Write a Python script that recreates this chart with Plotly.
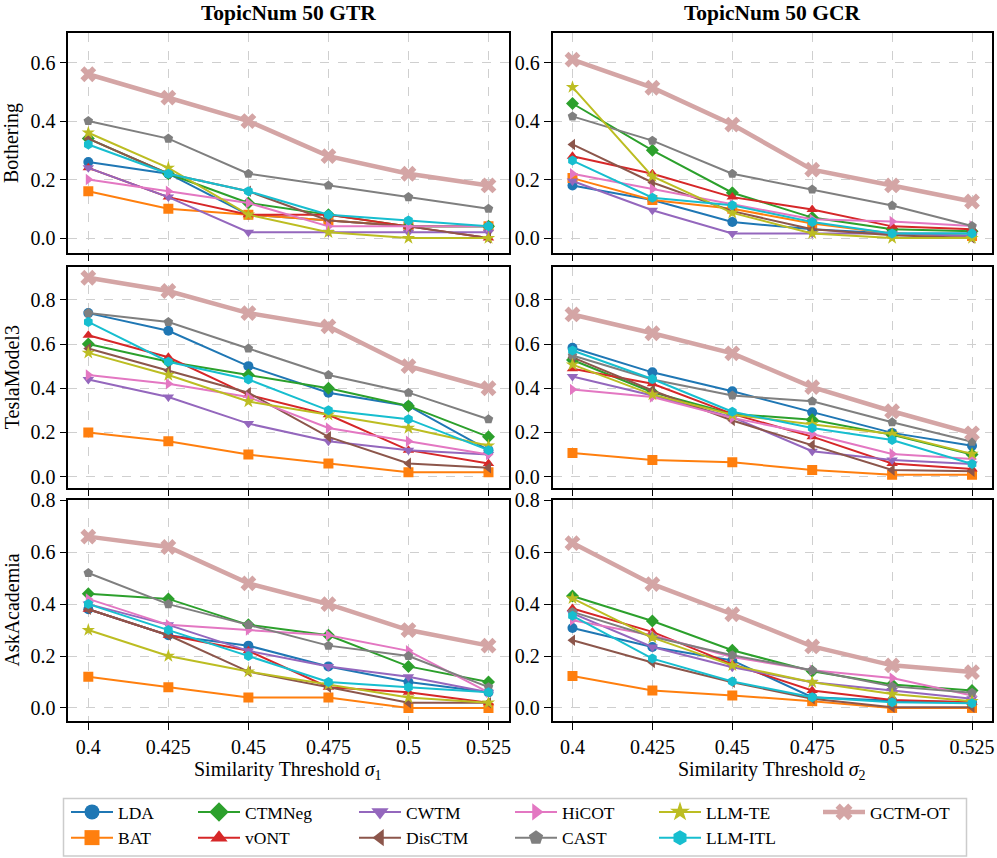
import plotly.graph_objects as go

thresholds = [0.4, 0.425, 0.45, 0.475, 0.5, 0.525]
tick_labels = ["0.4", "0.425", "0.45", "0.475", "0.5", "0.525"]
methods = ["LDA", "BAT", "CTMNeg", "vONT", "CWTM", "DisCTM", "HiCOT", "CAST", "LLM-TE", "LLM-ITL", "GCTM-OT"]
datasets = ["Bothering", "TeslaModel3", "AskAcademia"]
metrics = ["TopicNum 50 GTR", "TopicNum 50 GCR"]

gtr_bothering = {
    "LDA": [0.26, 0.22, 0.08, 0.06, 0.04, 0.04],
    "BAT": [0.16, 0.10, 0.08, 0.06, 0.04, 0.04],
    "CTMNeg": [0.34, 0.22, 0.12, 0.08, 0.04, 0.04],
    "vONT": [0.24, 0.14, 0.08, 0.08, 0.04, 0.00],
    "CWTM": [0.24, 0.14, 0.02, 0.02, 0.02, 0.02],
    "DisCTM": [0.34, 0.22, 0.16, 0.06, 0.04, 0.00],
    "HiCOT": [0.20, 0.16, 0.12, 0.04, 0.04, 0.04],
    "CAST": [0.40, 0.34, 0.22, 0.18, 0.14, 0.10],
    "LLM-TE": [0.36, 0.24, 0.08, 0.02, 0.00, 0.00],
    "LLM-ITL": [0.32, 0.22, 0.16, 0.08, 0.06, 0.04],
    "GCTM-OT": [0.56, 0.48, 0.40, 0.28, 0.22, 0.18],
}
gcr_bothering = {
    "LDA": [0.18, 0.13, 0.055, 0.03, 0.016, 0.016],
    "BAT": [0.205, 0.13, 0.10, 0.05, 0.016, 0.007],
    "CTMNeg": [0.46, 0.30, 0.155, 0.07, 0.03, 0.023],
    "vONT": [0.28, 0.22, 0.14, 0.098, 0.04, 0.03],
    "CWTM": [0.195, 0.095, 0.016, 0.016, 0.016, 0.007],
    "DisCTM": [0.32, 0.19, 0.092, 0.03, 0.01, 0.0],
    "HiCOT": [0.22, 0.168, 0.115, 0.064, 0.057, 0.041],
    "CAST": [0.416, 0.333, 0.22, 0.166, 0.111, 0.041],
    "LLM-TE": [0.516, 0.211, 0.086, 0.016, 0.0, 0.0],
    "LLM-ITL": [0.265, 0.138, 0.112, 0.055, 0.016, 0.016],
    "GCTM-OT": [0.61, 0.514, 0.388, 0.234, 0.18, 0.125],
}
gtr_tesla = {
    "LDA": [0.74, 0.66, 0.50, 0.38, 0.32, 0.12],
    "BAT": [0.20, 0.16, 0.10, 0.06, 0.02, 0.02],
    "CTMNeg": [0.60, 0.52, 0.46, 0.40, 0.32, 0.18],
    "vONT": [0.64, 0.54, 0.37, 0.28, 0.12, 0.06],
    "CWTM": [0.44, 0.36, 0.24, 0.16, 0.12, 0.10],
    "DisCTM": [0.58, 0.48, 0.38, 0.18, 0.06, 0.04],
    "HiCOT": [0.46, 0.42, 0.36, 0.22, 0.16, 0.10],
    "CAST": [0.74, 0.70, 0.58, 0.46, 0.38, 0.26],
    "LLM-TE": [0.56, 0.46, 0.34, 0.28, 0.22, 0.14],
    "LLM-ITL": [0.70, 0.52, 0.44, 0.30, 0.26, 0.12],
    "GCTM-OT": [0.90, 0.84, 0.74, 0.68, 0.50, 0.40],
}
gcr_tesla = {
    "LDA": [0.583, 0.472, 0.386, 0.291, 0.198, 0.14],
    "BAT": [0.107, 0.075, 0.065, 0.03, 0.009, 0.009],
    "CTMNeg": [0.528, 0.382, 0.284, 0.257, 0.189, 0.10],
    "vONT": [0.488, 0.42, 0.284, 0.181, 0.06, 0.035],
    "CWTM": [0.453, 0.367, 0.269, 0.115, 0.075, 0.057],
    "DisCTM": [0.54, 0.39, 0.254, 0.143, 0.03, 0.024],
    "HiCOT": [0.394, 0.36, 0.266, 0.193, 0.103, 0.08],
    "CAST": [0.548, 0.44, 0.367, 0.341, 0.246, 0.158],
    "LLM-TE": [0.507, 0.371, 0.28, 0.238, 0.193, 0.103],
    "LLM-ITL": [0.571, 0.442, 0.294, 0.22, 0.166, 0.057],
    "GCTM-OT": [0.734, 0.649, 0.558, 0.405, 0.296, 0.196],
}
gtr_askacademia = {
    "LDA": [0.38, 0.28, 0.24, 0.16, 0.10, 0.06],
    "BAT": [0.12, 0.08, 0.04, 0.04, 0.00, 0.00],
    "CTMNeg": [0.44, 0.42, 0.32, 0.28, 0.16, 0.10],
    "vONT": [0.38, 0.28, 0.22, 0.08, 0.06, 0.02],
    "CWTM": [0.40, 0.32, 0.22, 0.16, 0.12, 0.06],
    "DisCTM": [0.38, 0.28, 0.14, 0.08, 0.02, 0.02],
    "HiCOT": [0.42, 0.32, 0.30, 0.28, 0.22, 0.06],
    "CAST": [0.52, 0.40, 0.32, 0.24, 0.20, 0.08],
    "LLM-TE": [0.30, 0.20, 0.14, 0.09, 0.04, 0.02],
    "LLM-ITL": [0.40, 0.30, 0.20, 0.10, 0.08, 0.06],
    "GCTM-OT": [0.66, 0.62, 0.48, 0.40, 0.30, 0.24],
}
gcr_askacademia = {
    "LDA": [0.308, 0.235, 0.183, 0.041, 0.028, 0.022],
    "BAT": [0.123, 0.067, 0.048, 0.026, 0.0, 0.0],
    "CTMNeg": [0.431, 0.335, 0.222, 0.141, 0.09, 0.067],
    "vONT": [0.383, 0.293, 0.168, 0.067, 0.031, 0.022],
    "CWTM": [0.364, 0.235, 0.157, 0.099, 0.067, 0.035],
    "DisCTM": [0.261, 0.175, 0.099, 0.035, 0.003, 0.003],
    "HiCOT": [0.338, 0.28, 0.196, 0.145, 0.115, 0.048],
    "CAST": [0.37, 0.274, 0.203, 0.145, 0.083, 0.058],
    "LLM-TE": [0.422, 0.271, 0.164, 0.099, 0.054, 0.026],
    "LLM-ITL": [0.355, 0.19, 0.102, 0.041, 0.022, 0.018],
    "GCTM-OT": [0.635, 0.477, 0.361, 0.237, 0.164, 0.138],
}

panels = [gtr_bothering, gcr_bothering, gtr_tesla, gcr_tesla, gtr_askacademia, gcr_askacademia]
y_ranges = [[-0.05, 0.7], [-0.05, 0.95], [-0.05, 0.8]]
y_ticks = [[0, 0.2, 0.4, 0.6], [0, 0.2, 0.4, 0.6, 0.8], [0, 0.2, 0.4, 0.6, 0.8]]

colors = ["#1f77b4", "#ff7f0e", "#2ca02c", "#d62728", "#9467bd", "#8c564b",
          "#e377c2", "#7f7f7f", "#bcbd22", "#17becf", "#d4a5a5"]
symbols = ["circle", "square", "diamond", "triangle-up", "triangle-down", "triangle-left",
           "triangle-right", "pentagon", "star", "hexagon", "x"]
legend_ids = ["legend", "legend", "legend2", "legend2", "legend3", "legend3",
              "legend4", "legend4", "legend5", "legend5", "legend6"]

FONT = "Liberation Serif"
W, H = 997, 858
ML, MR, MT, MB = 68, 5, 33, 137
PW, PH = W - ML - MR, H - MT - MB

def px_x(X):
    return (X - ML) / PW

def px_y(Y):
    return (H - MB - Y) / PH

x_domains = [[px_x(68.3), px_x(508.5)], [px_x(552.5), 1.0]]
y_domains = [[px_y(252.7), px_y(33.3)], [px_y(487.7), px_y(266.7)], [px_y(720.9), px_y(500.3)]]

fig = go.Figure()
layout = {}
for i, panel in enumerate(panels):
    r, c = divmod(i, 2)
    xn = "x" if i == 0 else f"x{i+1}"
    yn = "y" if i == 0 else f"y{i+1}"
    xk = "xaxis" if i == 0 else f"xaxis{i+1}"
    yk = "yaxis" if i == 0 else f"yaxis{i+1}"
    for m, name in enumerate(methods):
        is_ot = name == "GCTM-OT"
        fig.add_trace(go.Scatter(
            x=thresholds, y=panel[name], mode="lines+markers", name=name,
            xaxis=xn, yaxis=yn,
            line=dict(color=colors[m], width=4.5 if is_ot else 2),
            marker=dict(symbol=symbols[m], size=14 if is_ot else 10, color=colors[m],
                        line=dict(width=0)),
            showlegend=False,
        ))
    common = dict(showline=True, mirror=True, linecolor="black", linewidth=1.5,
                  ticks="outside", ticklen=7, tickwidth=1.3, tickcolor="black",
                  showgrid=True, gridcolor="#cfcfcf", griddash="dash", gridwidth=1,
                  zeroline=False, ticklabeloverflow="allow",
                  tickfont=dict(family=FONT, size=20, color="black"))
    layout[xk] = dict(common, domain=x_domains[c], anchor=yn,
                      range=[0.39375, 0.53125], tickmode="array",
                      tickvals=thresholds, ticktext=tick_labels,
                      showticklabels=(r == 2))
    layout[yk] = dict(common, domain=y_domains[r], anchor=xn,
                      range=y_ranges[r], tickmode="array", tickvals=y_ticks[r],
                      tickformat=".1f")

# legend entries (key only, no data points)
for m, name in enumerate(methods):
    is_ot = name == "GCTM-OT"
    fig.add_trace(go.Scatter(
        x=[None], y=[None], mode="lines+markers", name=name,
        line=dict(color=colors[m], width=4.5 if is_ot else 2),
        marker=dict(symbol=symbols[m], size=15, color=colors[m], line=dict(width=0)),
        showlegend=True, legend=legend_ids[m],
    ))

annotations = []
for c in range(2):
    xc = sum(x_domains[c]) / 2
    annotations.append(dict(text=f"<b>{metrics[c]}</b>", x=xc, y=px_y(13), xref="paper", yref="paper",
                            showarrow=False, xanchor="center", yanchor="middle",
                            font=dict(family=FONT, size=21.5, color="black")))
    annotations.append(dict(text=f"Similarity Threshold <i>σ</i><sub>{c+1}</sub>", x=xc, y=px_y(771),
                            xref="paper", yref="paper", showarrow=False,
                            xanchor="center", yanchor="middle",
                            font=dict(family=FONT, size=20, color="black")))
for r in range(3):
    yc = sum(y_domains[r]) / 2
    annotations.append(dict(text=datasets[r], x=px_x(12), y=yc, xref="paper", yref="paper",
                            showarrow=False, textangle=-90, xanchor="center", yanchor="middle",
                            font=dict(family=FONT, size=20, color="black")))

legend_x = [70, 197, 358, 514, 658, 822]
legend_common = dict(orientation="v", xanchor="left", yanchor="top", y=px_y(794),
                     bgcolor="rgba(0,0,0,0)", borderwidth=0, itemwidth=42,
                     tracegroupgap=0, font=dict(family=FONT, size=17.5, color="black"))
for k, lx in enumerate(legend_x):
    key = "legend" if k == 0 else f"legend{k+1}"
    layout[key] = dict(legend_common, x=px_x(lx - 4))

shapes = [dict(type="rect", xref="paper", yref="paper",
               x0=px_x(63.5), x1=px_x(966.5), y0=px_y(856), y1=px_y(798.5),
               line=dict(color="#cccccc", width=1.5), fillcolor="rgba(0,0,0,0)")]

fig.update_layout(
    width=W, height=H, margin=dict(l=ML, r=MR, t=MT, b=MB, autoexpand=False),
    paper_bgcolor="white", plot_bgcolor="white",
    font=dict(family=FONT, color="black"),
    annotations=annotations, shapes=shapes, **layout,
)
fig.write_html("out.html", config={"displayModeBar": False},
               post_script="document.body.style.margin='0';document.body.style.overflow='hidden';")
